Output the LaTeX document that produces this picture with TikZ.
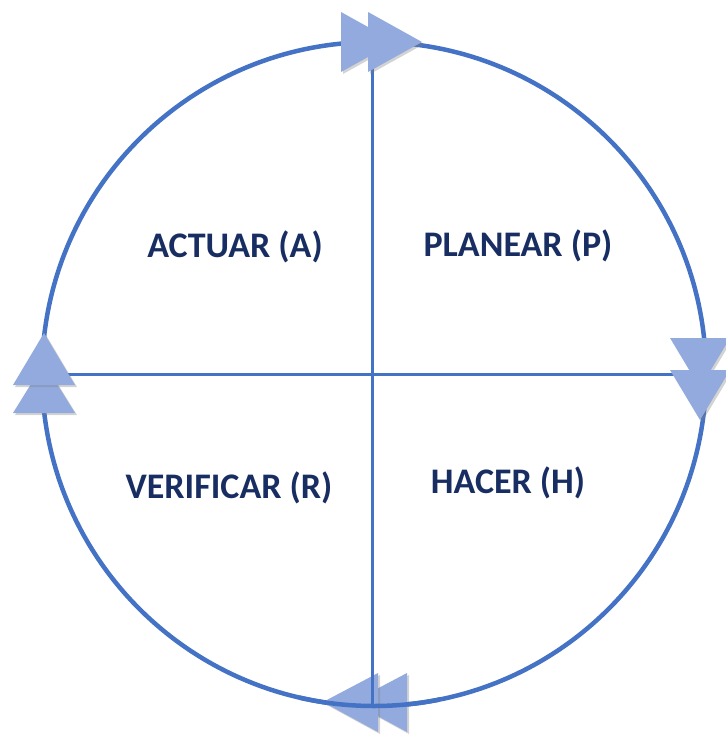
\documentclass[tikz,border=0pt]{standalone}
\usepackage{fontspec}
\setmainfont{Carlito}
\usetikzlibrary{shadows}
\definecolor{ringblue}{RGB}{68,114,196}
\definecolor{tri}{RGB}{146,170,222}
\definecolor{navy}{RGB}{24,46,98}
\tikzset{
  ring/.style={draw=ringblue,line width=4.5pt},
  axis/.style={draw=ringblue,line width=3pt},
  arrowtri/.style={fill=tri,draw=none,drop shadow={shadow xshift=2pt,shadow yshift=-2pt,opacity=0.35,fill=gray}},
  label/.style={font=\bfseries\fontsize{36}{40}\selectfont,text=navy,anchor=center}
}
\begin{document}
\begin{tikzpicture}[x=1pt,y=-1pt]
\useasboundingbox (0,0) rectangle (725,735);
\coordinate (c) at (374,374);
\draw[ring] (c) circle (332);
\draw[axis] (372,42) -- (372,706);
\draw[axis] (44,374) -- (706,374);
% top
\path[arrowtri] (341,12) -- (341,72) -- (395,42) -- cycle;
\path[arrowtri] (368,12) -- (368,72) -- (422,42) -- cycle;
% right
\path[arrowtri] (670,338) -- (730,338) -- (700,388) -- cycle;
\path[arrowtri] (670,370) -- (730,370) -- (700,420) -- cycle;
% left
\path[arrowtri] (13,413) -- (75,413) -- (44,363) -- cycle;
\path[arrowtri] (13,385) -- (75,385) -- (44,333) -- cycle;
% bottom
\path[arrowtri] (407,673) -- (407,732) -- (352,702) -- cycle;
\path[arrowtri] (378,673) -- (378,732) -- (323,702) -- cycle;
\begin{scope}
\clip (300,650) rectangle (440,735);
\draw[ring] (c) circle (332);
\draw[axis] (372,600) -- (372,706);
\end{scope}
\node[label] (act) at (235,247) {ACTUAR (A)};
\node[label] (pla) at (518,246) {PLANEAR (P)};
\node[label] (ver) at (229,488) {VERIFICAR (R)};
\node[label] (hac) at (508,483) {HACER (H)};
\end{tikzpicture}
\end{document}
